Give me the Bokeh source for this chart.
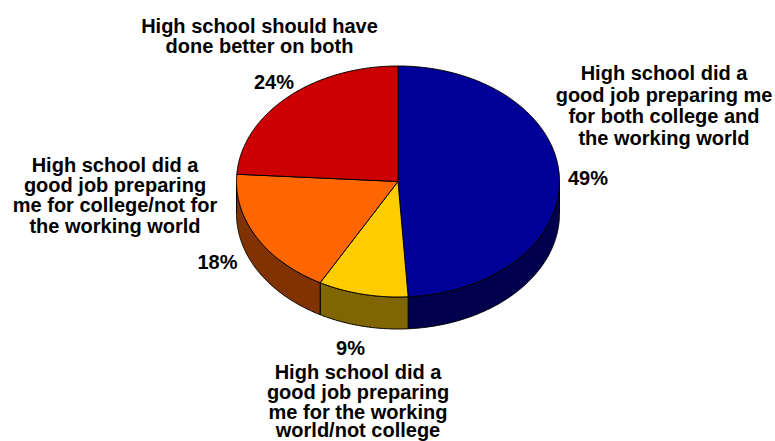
import math
from bokeh.core.properties import value
from bokeh.embed import file_html
from bokeh.models import Range1d
from bokeh.plotting import figure
from bokeh.resources import INLINE

# Survey shares, clockwise from twelve o'clock
categories = [
    "Both college and the working world",
    "Working world, not college",
    "College, not the working world",
    "Should have done better on both",
]
shares = [49, 9, 18, 24]
percent_labels = ["49%", "9%", "18%", "24%"]

top_colors = ["#000099", "#FFCC00", "#FF6600", "#CC0000"]
side_colors = ["#00004D", "#806600", "#803300", "#660000"]

label_lines = [
    ["High school did a", "good job preparing me", "for both college and", "the working world"],
    ["High school did a", "good job preparing", "me for the working", "world/not college"],
    ["High school did a", "good job preparing", "me for college/not for", "the working world"],
    ["High school should have", "done better on both"],
]
label_x = [663.5, 357.5, 114.5, 259]
label_y = [[72, 94, 115, 137], [371, 391, 411, 429.5], [164, 184, 204, 225], [25, 45]]
percent_x = [587.5, 350, 217, 273.5]
percent_y = [177, 347, 261, 81]

# Pie geometry in screen pixels
CX, CY, RX, RY, DEPTH = 397.5, 181.0, 161.5, 115.5, 32.0
FONT = value("Liberation Sans")
FONT_SIZE = "20px"

p = figure(
    width=775, height=441, output_backend="svg", toolbar_location=None,
    x_range=Range1d(0, 775), y_range=Range1d(441, 0),
    min_border=0, outline_line_color=None,
)
p.axis.visible = False
p.grid.visible = False
p.background_fill_color = "white"


def rim(start, stop, drop=0.0):
    """Points along the ellipse, angles in degrees clockwise from the top."""
    steps = max(2, int(abs(stop - start) * 2))
    angles = [math.radians(start + (stop - start) * i / steps) for i in range(steps + 1)]
    return (
        [CX + RX * math.sin(a) for a in angles],
        [CY - RY * math.cos(a) + drop for a in angles],
    )


# Slice boundaries derived from the shares
bounds = [0.0]
for share in shares:
    bounds.append(bounds[-1] + share * 3.6)

# Side walls: only the part of the rim facing the viewer is visible
for start, stop, color in zip(bounds[:-1], bounds[1:], side_colors):
    lo, hi = max(start, 90.0), min(stop, 270.0)
    if lo >= hi:
        continue
    upper_x, upper_y = rim(lo, hi)
    lower_x, lower_y = rim(lo, hi, DEPTH)
    p.patch(upper_x + lower_x[::-1], upper_y + lower_y[::-1],
            fill_color=color, line_color="black", line_width=1)

# Top face
for start, stop, color in zip(bounds[:-1], bounds[1:], top_colors):
    edge_x, edge_y = rim(start, stop)
    p.patch([CX] + edge_x, [CY] + edge_y,
            fill_color=color, line_color="black", line_width=1)

# Category captions and percentages
for x, ys, lines in zip(label_x, label_y, label_lines):
    p.text([x] * len(lines), ys, text=lines, text_font=FONT, text_font_size=FONT_SIZE,
           text_font_style="bold", text_color="black", text_align="center",
           text_baseline="middle")

p.text(percent_x, percent_y, text=percent_labels, text_font=FONT, text_font_size=FONT_SIZE,
       text_font_style="bold", text_color="black", text_align="center",
       text_baseline="middle")

open("out.html", "w").write(file_html(p, INLINE))
